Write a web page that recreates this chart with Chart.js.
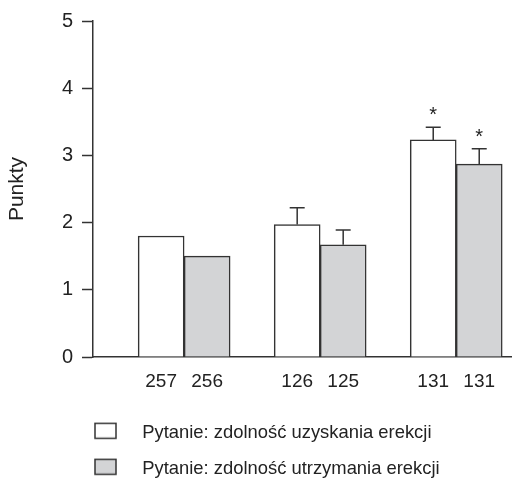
<!DOCTYPE html>
<html>
<head>
<meta charset="utf-8">
<script src="https://cdn.jsdelivr.net/npm/chart.js@4.4.1/dist/chart.umd.min.js"></script>
<style>
  html, body { margin: 0; padding: 0; background: #ffffff; }
  #wrap { width: 512px; height: 483px; position: relative; }
</style>
</head>
<body>
<div id="wrap"><canvas id="c" width="512" height="483"></canvas></div>
<script>
// ---- data ----
const groupPositions = [1, 2, 3];
const seriesNames = ['Pytanie: zdolność uzyskania erekcji', 'Pytanie: zdolność utrzymania erekcji'];
const sampleSizes1 = ['257', '126', '131'];
const sampleSizes2 = ['256', '125', '131'];
const values1 = [1.80, 1.97, 3.23];
const values2 = [1.50, 1.67, 2.87];
const errors1 = [null, 0.25, 0.19];
const errors2 = [null, 0.22, 0.23];
const significant1 = [false, false, true];
const significant2 = [false, false, true];
const yTickValues = [0, 1, 2, 3, 4, 5];
const xTickLabels = groupPositions.flatMap((g, i) => [sampleSizes1[i], sampleSizes2[i]]);

// ---- style ----
const FONT = "'Liberation Sans', Arial, sans-serif";
const INK = '#333333';
const TEXT = '#222222';
const FILL1 = '#ffffff';
const FILL2 = '#d3d4d6';
const BAR_PX = 46;
const X_MIN = 0.33, X_MAX = 3.41;
const LEGEND_PAD = 17.6;

function makeIcon(fill) {
  const c = document.createElement('canvas');
  c.width = 40; c.height = 22;
  const g = c.getContext('2d');
  g.fillStyle = fill;
  g.fillRect(2, 1.5, 21, 15);
  g.strokeStyle = INK;
  g.lineWidth = 1.5;
  g.strokeRect(2, 1.5, 21, 15);
  return c;
}
const legendIcons = [makeIcon(FILL1), makeIcon(FILL2)];

const errorPlugin = {
  id: 'errorBars',
  afterDatasetsDraw(chart) {
    const ctx = chart.ctx;
    const yScale = chart.scales.y;
    const errs = [errors1, errors2];
    const sigs = [significant1, significant2];
    const vals = [values1, values2];
    ctx.save();
    ctx.strokeStyle = INK;
    ctx.lineWidth = 1.5;
    chart.data.datasets.forEach((ds, di) => {
      const meta = chart.getDatasetMeta(di);
      meta.data.forEach((el, i) => {
        const e = errs[di][i];
        let topY = el.y;
        if (e != null) {
          topY = yScale.getPixelForValue(vals[di][i] + e);
          ctx.beginPath();
          ctx.moveTo(el.x, el.y);
          ctx.lineTo(el.x, topY);
          ctx.moveTo(el.x - 7.5, topY);
          ctx.lineTo(el.x + 7.5, topY);
          ctx.stroke();
        }
        if (sigs[di][i]) {
          ctx.fillStyle = TEXT;
          ctx.font = '20px ' + FONT;
          ctx.textAlign = 'center';
          ctx.textBaseline = 'alphabetic';
          ctx.fillText('*', el.x, topY - 6);
        }
      });
    });
    ctx.restore();
  }
};

const legendShift = {
  id: 'legendShift',
  afterLayout(chart) {
    const lg = chart.legend;
    if (!lg) return;
    const dx = (93 - LEGEND_PAD) - lg.left;
    lg.left += dx;
    lg.right += dx;
  }
};

new Chart(document.getElementById('c'), {
  type: 'bar',
  data: {
    datasets: [
      {
        label: seriesNames[0],
        data: values1.map((v, i) => ({x: groupPositions[i], y: v})),
        backgroundColor: FILL1,
        borderColor: INK,
        borderWidth: 1.5,
        barThickness: BAR_PX
      },
      {
        label: seriesNames[1],
        data: values2.map((v, i) => ({x: groupPositions[i], y: v})),
        backgroundColor: FILL2,
        borderColor: INK,
        borderWidth: 1.5,
        barThickness: BAR_PX
      }
    ]
  },
  options: {
    responsive: false,
    animation: false,
    layout: { padding: { top: 17, left: 0, right: 0, bottom: 0 } },
    plugins: {
      tooltip: { enabled: false },
      legend: {
        position: 'bottom',
        align: 'start',
        maxHeight: 77,
        labels: {
          usePointStyle: true,
          pointStyleWidth: 40,
          padding: LEGEND_PAD,
          color: TEXT,
          font: { size: 18.4, family: FONT },
          generateLabels(chart) {
            const items = Chart.defaults.plugins.legend.labels.generateLabels(chart);
            items.forEach((it, i) => { it.pointStyle = legendIcons[i]; });
            return items;
          }
        }
      }
    },
    scales: {
      x: {
        type: 'linear',
        min: X_MIN,
        max: X_MAX,
        offset: false,
        grid: { display: false, drawTicks: false, offset: false },
        border: { display: true, color: INK, width: 1.5 },
        afterBuildTicks(scale) {
          const w = scale.width || 419;
          const half = (BAR_PX / 2) * (scale.max - scale.min) / w;
          scale.ticks = groupPositions.flatMap(g => [{value: g - half}, {value: g + half}]);
        },
        afterFit(scale) { scale.height = 49; },
        ticks: {
          autoSkip: false,
          maxRotation: 0,
          padding: 13,
          color: TEXT,
          font: { size: 19, family: FONT },
          callback: (v, i) => xTickLabels[i]
        }
      },
      y: {
        min: 0,
        max: 5,
        afterBuildTicks(scale) { scale.ticks = yTickValues.map(v => ({value: v})); },
        afterFit(scale) { scale.width = 93; },
        grid: { drawOnChartArea: false, drawTicks: true, tickLength: 11, tickColor: INK, tickWidth: 1.5, color: INK },
        border: { display: true, color: INK, width: 1.5 },
        ticks: {
          padding: 9,
          color: TEXT,
          font: { size: 20, family: FONT },
          callback: (v) => String(v)
        },
        title: {
          display: true,
          text: 'Punkty',
          color: TEXT,
          font: { size: 21, family: FONT },
          padding: { top: 5, bottom: 0 }
        }
      }
    }
  },
  plugins: [errorPlugin, legendShift]
});
</script>
</body>
</html>
